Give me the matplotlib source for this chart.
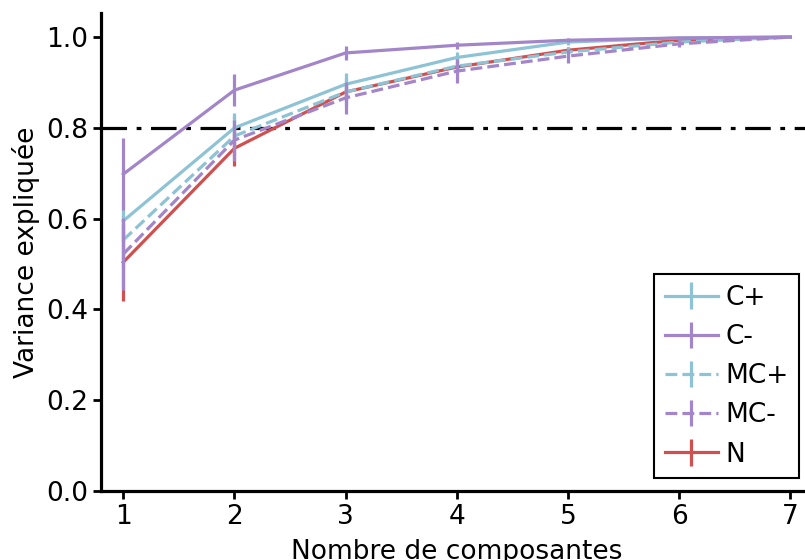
import matplotlib
matplotlib.use("Agg")
import matplotlib.pyplot as plt
import numpy as np

# nombre de composantes
composantes = [1, 2, 3, 4, 5, 6, 7]

# variance expliquee cumulee par condition
c_plus = [0.595, 0.800, 0.896, 0.955, 0.989, 0.998, 1.0]
c_minus = [0.698, 0.883, 0.965, 0.982, 0.993, 0.998, 1.0]
mc_plus = [0.553, 0.782, 0.879, 0.936, 0.967, 0.989, 1.0]
mc_minus = [0.522, 0.773, 0.866, 0.925, 0.958, 0.985, 1.0]
n_cond = [0.504, 0.755, 0.879, 0.934, 0.971, 0.993, 1.0]

# ecarts (barres d'erreur)
err_c_plus = [0.045, 0.033, 0.025, 0.012, 0.006, 0.003, 0.0]
err_c_minus = [0.08, 0.035, 0.015, 0.008, 0.004, 0.002, 0.0]
err_mc_plus = [0.06, 0.045, 0.03, 0.015, 0.01, 0.005, 0.0]
err_mc_minus = [0.08, 0.045, 0.035, 0.027, 0.015, 0.008, 0.0]
err_n = [0.085, 0.04, 0.02, 0.012, 0.006, 0.003, 0.0]

seuil = 0.8

bleu = '#8dc3d5'
violet = '#a386c9'
rouge = '#d0504f'

plt.rcParams['font.family'] = 'DejaVu Sans'
plt.rcParams['font.size'] = 19

fig = plt.figure(figsize=(8.05, 5.6), dpi=100)
ax = fig.add_axes([0.1255, 0.1232, 0.884, 0.8536])

lw = 2.3
h_n = ax.errorbar(composantes, n_cond, yerr=err_n, color=rouge, lw=lw, elinewidth=lw, label='N', zorder=2)
h_mcp = ax.errorbar(composantes, mc_plus, yerr=err_mc_plus, color=bleu, lw=lw, elinewidth=lw, ls='--', label='MC+', zorder=3)
h_cp = ax.errorbar(composantes, c_plus, yerr=err_c_plus, color=bleu, lw=lw, elinewidth=lw, label='C+', zorder=3)
h_mcm = ax.errorbar(composantes, mc_minus, yerr=err_mc_minus, color=violet, lw=lw, elinewidth=lw, ls='--', label='MC-', zorder=4)
h_cm = ax.errorbar(composantes, c_minus, yerr=err_c_minus, color=violet, lw=lw, elinewidth=lw, label='C-', zorder=4)

ax.axhline(seuil, color='black', lw=2.3, ls=(0, (8, 3, 1.5, 3)), zorder=1)

ax.set_xlim(0.8, 7.2)
ax.set_ylim(0, 1.053)
ax.set_xticks(composantes)
ax.set_yticks(np.arange(0, 1.01, 0.2))
ax.set_xlabel('Nombre de composantes', labelpad=6)
ax.set_ylabel('Variance expliquée', labelpad=4)

for s in ['top', 'right']:
    ax.spines[s].set_visible(False)
for s in ['left', 'bottom']:
    ax.spines[s].set_linewidth(2.3)
ax.tick_params(width=2, length=6)

leg = fig.legend([h_cp, h_cm, h_mcp, h_mcm, h_n], ['C+', 'C-', 'MC+', 'MC-', 'N'],
                 loc='lower right', bbox_to_anchor=(0.993, 0.146), fancybox=False,
                 edgecolor='black', framealpha=1, borderaxespad=0,
                 handletextpad=0.3, handlelength=2.0, labelspacing=0.5)
leg.get_frame().set_linewidth(1.5)

fig.savefig('out.png', dpi=100)
